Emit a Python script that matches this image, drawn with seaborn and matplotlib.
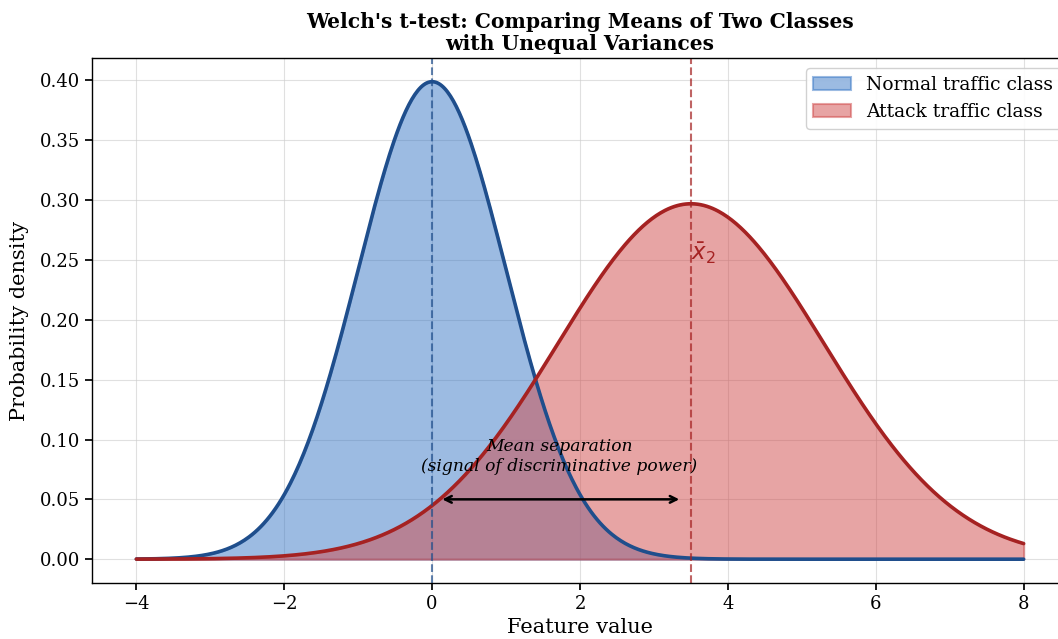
import numpy as np
import pandas as pd
import matplotlib
matplotlib.use("Agg")
import matplotlib.pyplot as plt
import seaborn as sns

# Data: class curve parameters
class_names = ["Normal traffic class", "Attack traffic class"]
class_means = [0.0, 3.5]
class_sds = [1.0, 1.8]
class_peaks = [0.399, 0.297]
x_range = [-4.0, 8.0]
line_colors = ["#1f4e8c", "#a52222"]
fill_colors = ["#3a78c6", "#d04a4a"]

sns.set_theme(style="ticks")
plt.rcParams["font.family"] = ["DejaVu Serif"]
plt.rcParams["mathtext.fontset"] = "dejavusans"
for k in ["text.color", "axes.labelcolor", "xtick.color", "ytick.color", "axes.edgecolor"]:
    plt.rcParams[k] = "black"

x = np.linspace(x_range[0], x_range[1], 600)
frames = []
for name, m, s, p in zip(class_names, class_means, class_sds, class_peaks):
    y = p * np.exp(-0.5 * ((x - m) / s) ** 2)
    frames.append(pd.DataFrame({"x": x, "density": y, "cls": name}))
df = pd.concat(frames, ignore_index=True)

fig = plt.figure(figsize=(10.58, 6.39), dpi=100)
ax = fig.add_axes([92 / 1058, 1 - 583 / 639, (1068 - 92) / 1058, (583 - 58) / 639])

for name, lc, fc in zip(class_names, line_colors, fill_colors):
    sub = df[df["cls"] == name]
    ax.fill_between(sub["x"], 0, sub["density"], color=fc, alpha=0.5,
                    edgecolor=fc, linewidth=1.5, label=name)

sns.lineplot(data=df, x="x", y="density", hue="cls", palette=line_colors,
             linewidth=2.6, ax=ax, legend=False)

ax.axvline(class_means[0], color=line_colors[0], linestyle="--", linewidth=1.5, alpha=0.7)
ax.axvline(class_means[1], color=line_colors[1], linestyle="--", linewidth=1.5, alpha=0.7)

ax.text(class_means[1], 0.245, r"$\bar{x}_2$", color=line_colors[1], fontsize=16.5,
        ha="left", va="bottom")

ax.annotate("", xy=(class_means[1] - 0.12, 0.05), xytext=(class_means[0] + 0.1, 0.05),
            arrowprops=dict(arrowstyle="<->", color="black", lw=1.8))
ax.text(1.72, 0.0705,
        "Mean separation\n(signal of discriminative power)",
        ha="center", va="bottom", fontsize=12.3, style="italic")

ax.set_xticks([-4, -2, 0, 2, 4, 6, 8])
ax.set_yticks(np.arange(0, 0.41, 0.05))
ax.set_yticklabels([f"{v:.2f}" for v in np.arange(0, 0.41, 0.05)])
ax.tick_params(labelsize=13, length=5, colors="black")
ax.set_xlabel("Feature value", fontsize=15)
ax.set_ylabel("Probability density", fontsize=15, labelpad=8)
ax.set_title("Welch's t-test: Comparing Means of Two Classes\nwith Unequal Variances",
             fontsize=14.6, fontweight="bold", linespacing=1.1, color="black")
ax.grid(True, color="#cccccc", alpha=0.6, linewidth=0.8)
for sp in ax.spines.values():
    sp.set_visible(True)
    sp.set_color("black")
    sp.set_linewidth(1.0)
ax.set_xlim(-4.6, 8.6)
ax.set_ylim(-0.0199, 0.4188)
ax.set_axisbelow(True)
leg = ax.legend(loc="upper right", fontsize=13.5, frameon=True, framealpha=0.9,
                bbox_to_anchor=(1.0 - (1068 - 1058) / (1068 - 92) + 0.012, 0.998))
leg.get_frame().set_edgecolor("#cccccc")

fig.savefig("out.png", dpi=100)
